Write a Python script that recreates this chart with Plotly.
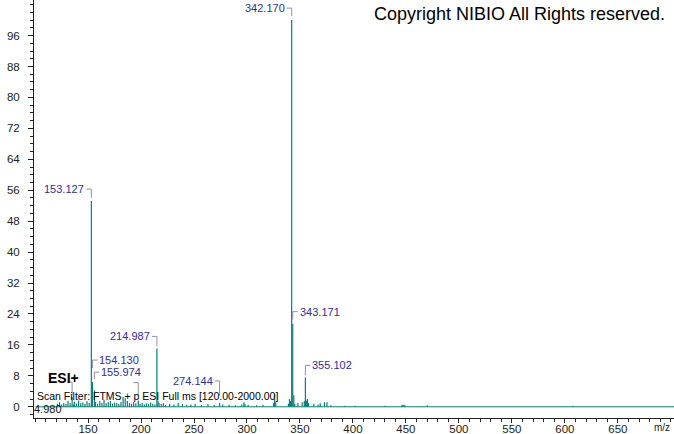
import plotly.graph_objects as go

# ---- data ----
peak_mz = [121.1, 123.1, 125.1, 127.1, 129.1, 131.1, 133.1, 134.98, 136.1, 137.1, 139.1, 141.1,
           143.1, 145.1, 147.1, 149.0, 151.1, 153.127, 154.130, 155.974, 157.1, 159.1, 161.1,
           163.1, 165.1, 167.1, 169.1, 171.1, 173.1, 175.1, 177.1, 179.1, 181.1, 183.1, 185.1,
           187.1, 189.1, 191.1, 193.1, 195.1, 197.4, 199.1, 201.1, 203.1, 205.1, 207.1, 209.1,
           211.1, 213.1, 214.987, 216.0, 217.0, 219.1, 221.1, 223.1, 227.1, 231.1, 235.1, 239.1,
           243.1, 247.1, 251.1, 257.1, 263.1, 269.1, 274.144, 277.1, 283.1, 289.1, 295.1, 297.1,
           298.1, 301.1, 309.1, 315.1, 325.1, 326.1, 327.1, 339.1, 340.1, 341.1, 342.170, 343.171,
           344.17, 345.1, 348.1, 352.1, 354.1, 355.102, 356.1, 357.1, 358.1, 363.1, 367.1, 369.1,
           373.1, 375.5, 379.1, 392.5, 402.0, 430.1, 446.1, 447.1, 448.1, 449.1, 470.1, 607.7]
peak_int = [0.8, 1.2, 0.6, 1.0, 0.7, 1.5, 0.9, 2.5, 0.6, 1.3, 0.8, 1.6,
            0.9, 1.1, 0.7, 1.4, 1.0, 53.2, 6.4, 4.3, 1.2, 0.8, 1.5,
            1.0, 1.8, 0.9, 1.2, 1.4, 0.8, 1.1, 1.0, 0.7, 1.3, 2.5, 2.2,
            1.5, 1.0, 0.8, 1.2, 0.9, 1.6, 0.7, 1.0, 0.6, 0.9, 0.7, 1.1,
            0.8, 0.6, 15.1, 1.6, 1.0, 0.7, 0.9, 0.5, 0.8, 0.6, 1.0, 0.7,
            0.5, 0.6, 0.8, 0.5, 0.7, 0.5, 1.0, 0.6, 0.5, 0.4, 0.6, 1.2,
            0.7, 0.5, 0.4, 0.5, 1.0, 3.4, 1.2, 0.8, 2.0, 1.5, 100.0, 21.5,
            3.0, 0.8, 1.0, 1.2, 1.5, 7.6, 1.6, 2.0, 1.0, 0.8, 0.6, 0.9,
            1.2, 1.2, 0.4, 0.3, 0.3, 0.3, 0.4, 0.5, 0.5, 0.4, 0.4, 0.3]

# labelled peaks: m/z, intensity, text, side, label height above peak top (px), bracket length (px)
lab_mz = [342.170, 153.127, 214.987, 343.171, 154.130, 155.974, 355.102, 274.144, 134.98, 197.4]
lab_int = [100.0, 53.2, 15.1, 21.5, 6.4, 4.3, 7.6, 1.0, 2.5, 1.6]
lab_text = ["342.170", "153.127", "214.987", "343.171", "154.130", "155.974", "355.102", "274.144", "", ""]
lab_side = ["left", "left", "left", "right", "right", "right", "right", "left", "left", "left"]
lab_dy = [12, 12, 12, 12, 22, 18, 12, 22, 15, 18]
lab_vl = [8, 9, 10, 8, 8, 7, 10, 15, 13, 13]

x_ticks = [150, 200, 250, 300, 350, 400, 450, 500, 550, 600, 650]
y_ticks = [0, 8, 16, 24, 32, 40, 48, 56, 64, 72, 80, 88, 96]

TEAL = "#0b7f78"
LABEL = "#2e2e9c"
CONN = "#8f8fb3"

# stick spectrum
xs, ys = [], []
for m, v in zip(peak_mz, peak_int):
    xs += [m, m, None]
    ys += [0, v, None]

fig = go.Figure()
fig.add_trace(go.Scatter(x=[100.5, 703], y=[0, 0], mode="lines",
                         line=dict(color=TEAL, width=1), hoverinfo="skip", showlegend=False))
fig.add_trace(go.Scatter(x=xs, y=ys, mode="lines", line=dict(color=TEAL, width=1.2),
                         showlegend=False))

shapes = []
annots = []
for m, v, t, side, dy, vl in zip(lab_mz, lab_int, lab_text, lab_side, lab_dy, lab_vl):
    s = -5 if side == "left" else 5
    path = f"M {s},{dy} L 0,{dy} L 0,{dy - vl}"
    shapes.append(dict(type="path", xref="x", yref="y", xsizemode="pixel", ysizemode="pixel",
                       xanchor=m, yanchor=v, path=path, line=dict(color=CONN, width=1)))
    if t:
        annots.append(dict(x=m, y=v, xref="x", yref="y", text=t, showarrow=False,
                           xanchor="right" if side == "left" else "left", yanchor="middle",
                           xshift=-5 if side == "left" else 5, yshift=dy,
                           font=dict(family="Liberation Sans", size=11, color=LABEL)))

annots += [
    dict(x=134.98, y=0, xref="x", yref="y", text="4.980", showarrow=False, xanchor="right",
         yanchor="middle", xshift=-8, yshift=-2,
         font=dict(family="Liberation Sans", size=11, color="#111")),
    dict(x=0.989, y=0.9665, xref="paper", yref="paper", text="Copyright NIBIO All Rights reserved.",
         showarrow=False, xanchor="right", yanchor="middle",
         font=dict(family="Liberation Sans", size=18, color="#000")),
    dict(x=0.019, y=0.0957, xref="paper", yref="paper", text="<b>ESI+</b>", showarrow=False,
         xanchor="left", yanchor="middle", font=dict(family="Liberation Sans", size=14, color="#000")),
    dict(x=0.001, y=0.0526, xref="paper", yref="paper",
         text="Scan Filter: FTMS + p ESI Full ms [120.00-2000.00]", showarrow=False,
         xanchor="left", yanchor="middle", font=dict(family="Liberation Sans", size=10.5, color="#000")),
    dict(x=0.981, y=-0.022, xref="paper", yref="paper", text="m/z", showarrow=False,
         xanchor="center", yanchor="middle", font=dict(family="Liberation Sans", size=10, color="#222")),
]

fig.update_layout(
    width=674, height=434, margin=dict(l=34, r=0, t=0, b=16, autoexpand=False),
    paper_bgcolor="white", plot_bgcolor="white",
    shapes=shapes, annotations=annots,
    xaxis=dict(range=[99, 703], tickmode="array", tickvals=x_ticks, ticks="outside", ticklen=4,
               tickcolor="#222", showline=True, linecolor="#222", linewidth=1, showgrid=False,
               zeroline=False, automargin=False, ticklabelstandoff=-4,
               tickfont=dict(family="Liberation Sans", size=11.5, color="#222"),
               minor=dict(tickmode="linear", tick0=0, dtick=10, ticks="outside", ticklen=3,
                          tickcolor="#222", showgrid=False)),
    yaxis=dict(range=[-2.9, 105.2], tickmode="array", tickvals=y_ticks, ticks="outside", ticklen=5,
               tickcolor="#222", showline=True, linecolor="#222", linewidth=1, showgrid=False,
               zeroline=False, ticklabelstandoff=6, automargin=False,
               tickfont=dict(family="Liberation Sans", size=11.5, color="#222"),
               minor=dict(tickmode="linear", tick0=0, dtick=2, ticks="outside", ticklen=3,
                          tickcolor="#222", showgrid=False)),
)

fig.write_html("out.html", config={"displayModeBar": False},
               post_script="document.body.style.margin='0';document.body.style.overflow='hidden';")
